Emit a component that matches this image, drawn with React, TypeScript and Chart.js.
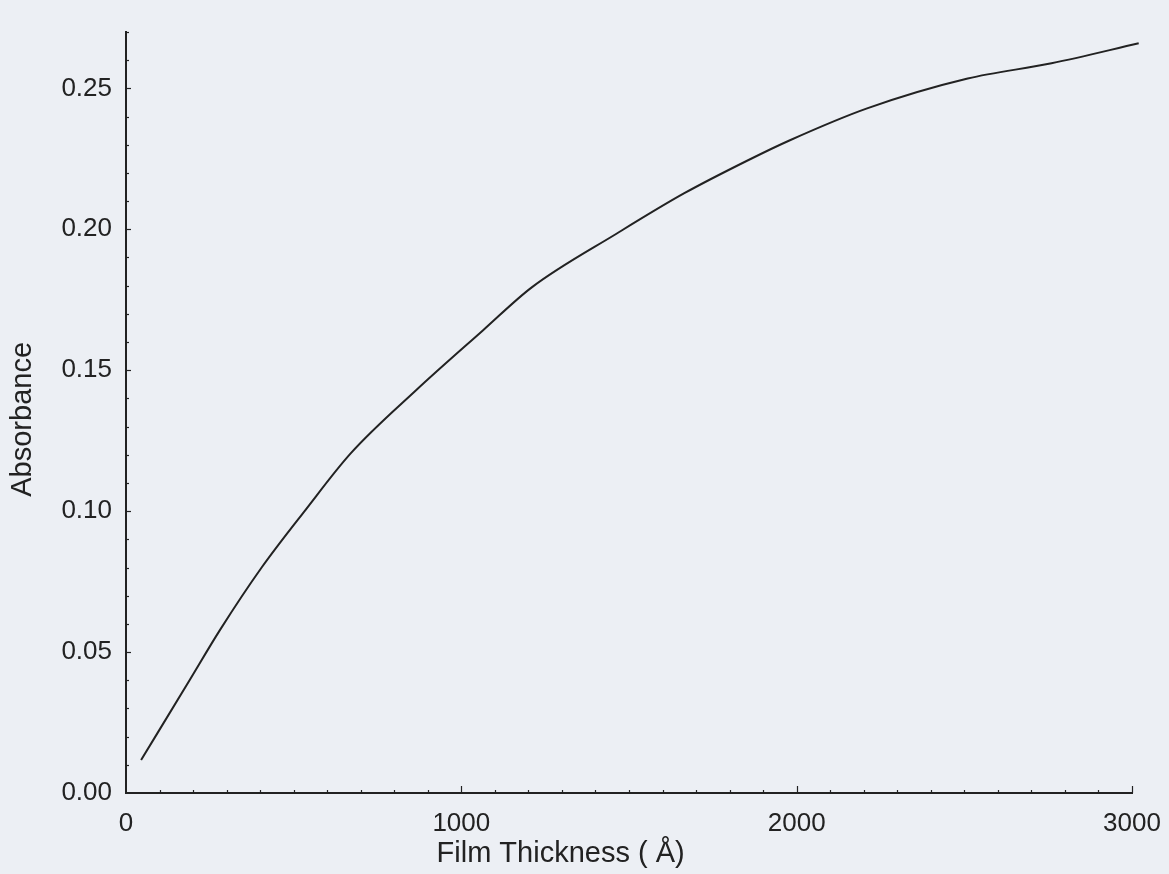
import React, { useEffect, useRef } from "react";
import { Chart, registerables } from "chart.js";

Chart.register(...registerables);

// Film thickness (Å)
const thickness = [45, 190, 280, 405, 535, 670, 865, 1065, 1210, 1465, 1665, 1855, 1980, 2210, 2510, 2760, 3020];
// Absorbance
const absorbance = [0.0117, 0.0401, 0.0578, 0.0801, 0.1004, 0.1205, 0.1429, 0.1642, 0.1794, 0.1986, 0.2128, 0.2245, 0.2316, 0.2429, 0.2535, 0.2589, 0.266];

const xTickValues = [0, 1000, 2000, 3000];
const xTickLabels = ["0", "1000", "2000", "3000"];
const yTickValues = [0, 0.05, 0.1, 0.15, 0.2, 0.25];
const yTickLabels = ["0.00", "0.05", "0.10", "0.15", "0.20", "0.25"];
const xMinorStep = 100;
const yMinorStep = 0.01;
const xTitle = "Film Thickness ( Å)";
const yTitle = "Absorbance";

const INK = "#222222";
const BG = "#eceff4";
const FONT = "'Liberation Sans', Arial, Helvetica, sans-serif";

const decorations = {
  id: "decorations",
  afterDraw(chart: any) {
    const { ctx, scales, chartArea } = chart;
    const x = scales.x;
    const y = scales.y;
    ctx.save();
    ctx.strokeStyle = INK;
    ctx.lineWidth = 1.2;
    for (let v = xMinorStep; v <= x.max + 1e-9; v += xMinorStep) {
      const px = Math.round(x.getPixelForValue(v)) + 0.5;
      const len = Math.abs(v % 1000) < 1e-6 ? 7 : 3;
      ctx.beginPath();
      ctx.moveTo(px, chartArea.bottom);
      ctx.lineTo(px, chartArea.bottom - len);
      ctx.stroke();
    }
    for (let v = yMinorStep; v <= y.max + 1e-9; v += yMinorStep) {
      const py = Math.round(y.getPixelForValue(v)) + 0.5;
      const isMajor = Math.abs(v / 0.05 - Math.round(v / 0.05)) < 1e-6;
      const len = isMajor ? 5 : 3;
      ctx.beginPath();
      ctx.moveTo(chartArea.left, py);
      ctx.lineTo(chartArea.left + len, py);
      ctx.stroke();
    }
    // axis titles
    ctx.fillStyle = INK;
    ctx.font = `29px ${FONT}`;
    ctx.textAlign = "center";
    ctx.textBaseline = "middle";
    ctx.fillText(xTitle, chartArea.left + chartArea.width * 0.432, chartArea.bottom + 61);
    ctx.translate(23, chartArea.top + chartArea.height * 0.509);
    ctx.rotate(-Math.PI / 2);
    ctx.fillText(yTitle, 0, 0);
    ctx.restore();
  },
};

export default function App() {
  const canvasRef = useRef<HTMLCanvasElement | null>(null);

  useEffect(() => {
    document.body.style.margin = "0";
    document.body.style.background = BG;
    const canvas = canvasRef.current;
    if (!canvas) return;
    const chart = new Chart(canvas, {
      type: "line",
      data: {
        datasets: [
          {
            data: thickness.map((t, i) => ({ x: t, y: absorbance[i] })),
            borderColor: INK,
            borderWidth: 2,
            pointRadius: 0,
            fill: false,
            clip: false,
            cubicInterpolationMode: "monotone",
          },
        ],
      },
      options: {
        animation: false,
        responsive: true,
        maintainAspectRatio: false,
        layout: { padding: { left: 0, right: 37, top: 32, bottom: 0 } },
        plugins: { legend: { display: false }, tooltip: { enabled: false } },
        scales: {
          x: {
            type: "linear",
            min: 0,
            max: 3000,
            afterBuildTicks: (scale: any) => {
              scale.ticks = xTickValues.map((v) => ({ value: v }));
            },
            afterFit: (scale: any) => {
              scale.height = 81;
              scale.paddingLeft = 0;
              scale.paddingRight = 0;
            },
            grid: { display: false, drawTicks: false },
            border: { display: true, color: INK, width: 2 },
            ticks: {
              padding: 15,
              color: INK,
              font: { family: FONT, size: 26 },
              maxRotation: 0,
              callback: (v: any) => {
                const i = xTickValues.indexOf(Number(v));
                return i >= 0 ? xTickLabels[i] : "";
              },
            },
          },
          y: {
            type: "linear",
            min: 0,
            max: 0.27,
            afterBuildTicks: (scale: any) => {
              scale.ticks = yTickValues.map((v) => ({ value: v }));
            },
            afterFit: (scale: any) => {
              scale.width = 126;
              scale.paddingTop = 0;
              scale.paddingBottom = 0;
            },
            grid: { display: false, drawTicks: false },
            border: { display: true, color: INK, width: 2 },
            ticks: {
              padding: 14,
              color: INK,
              font: { family: FONT, size: 26 },
              callback: (v: any) => {
                const i = yTickValues.findIndex((t) => Math.abs(t - Number(v)) < 1e-9);
                return i >= 0 ? yTickLabels[i] : "";
              },
            },
          },
        },
      },
      plugins: [decorations],
    } as any);
    return () => chart.destroy();
  }, []);

  return (
    <div style={{ width: 1169, height: 874, position: "relative", background: BG }}>
      <canvas ref={canvasRef} />
    </div>
  );
}
